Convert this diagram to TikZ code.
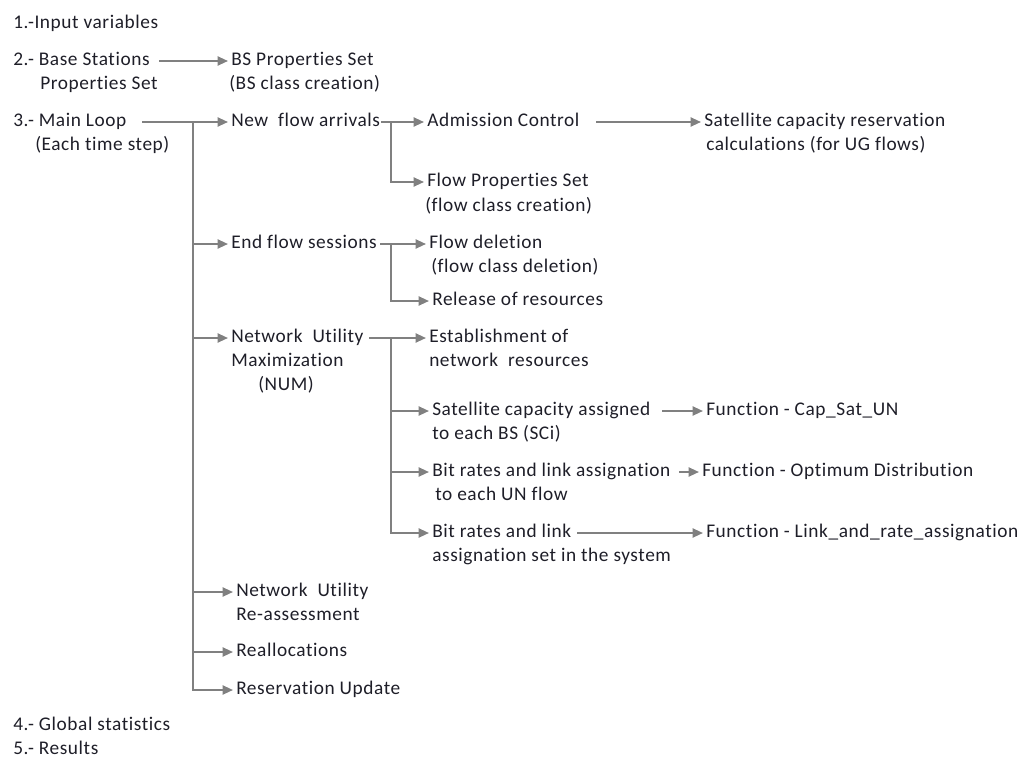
\documentclass[tikz,border=0pt]{standalone}
\usepackage{fontspec}
\setmainfont{Carlito}[Ligatures=NoCommon,LetterSpace=3]
\usetikzlibrary{arrows.meta}
\definecolor{linegray}{HTML}{808080}
\definecolor{ink}{HTML}{1E1E28}
\begin{document}
\begin{tikzpicture}[x=0.75pt,y=-0.75pt,
  lbl/.style={anchor=west,inner xsep=2.25pt,inner ysep=0pt,text height=9.6pt,text depth=3.6pt,
              font=\fontsize{14.5}{17}\selectfont,text=ink},
  conn/.style={draw=linegray,line width=1.5pt},
  arr/.style={conn,-{Triangle[length=7.8pt,width=6.8pt]}}]
\useasboundingbox (0,0) rectangle (1021,760);

% left column
\node[lbl] (l1)  at (10,24)  {1.-Input variables};
\node[lbl] (bs)  at (10,61)  {2.- Base Stations};
\node[lbl] (bs2) at (37,85)  {Properties Set};
\node[lbl] (ml)  at (10,122) {3.- Main Loop};
\node[lbl] (ml2) at (32,146) {(Each time step)};
\node[lbl] (g4)  at (10,726) {4.- Global statistics};
\node[lbl] (r5)  at (10,750) {5.- Results};

% second column
\node[lbl] (bsp)  at (228,61)  {BS Properties Set};
\node[lbl] (bsp2) at (226,85)  {(BS class creation)};
\node[lbl] (nfa)  at (228,122) {New\ \ flow arrivals};
\node[lbl] (efs)  at (228,244) {End flow sessions};
\node[lbl] (num)  at (228,338) {Network\ \ Utility};
\node[lbl] (num2) at (228,362) {Maximization};
\node[lbl] (num3) at (255,386) {(NUM)};
\node[lbl] (nur)  at (233,592) {Network\ \ Utility};
\node[lbl] (nur2) at (233,616) {Re-assessment};
\node[lbl] (rea)  at (233,652) {Reallocations};
\node[lbl] (rsu)  at (233,690) {Reservation Update};

% third column
\node[lbl] (adm)  at (424,122) {Admission Control};
\node[lbl] (fps)  at (424,182) {Flow Properties Set};
\node[lbl] (fps2) at (422,207) {(flow class creation)};
\node[lbl] (fd)   at (426,244) {Flow deletion};
\node[lbl] (fd2)  at (428,268) {(flow class deletion)};
\node[lbl] (rel)  at (429,301) {Release of resources};
\node[lbl] (est)  at (426,338) {Establishment of};
\node[lbl] (est2) at (426,362) {network\ \ resources};
\node[lbl] (sca)  at (429,411) {Satellite capacity assigned};
\node[lbl] (sca2) at (429,435) {to each BS (SCi)};
\node[lbl] (brl)  at (429,472) {Bit rates and link assignation};
\node[lbl] (brl2) at (432,496) {to each UN flow};
\node[lbl] (brs)  at (429,533) {Bit rates and link};
\node[lbl] (brs2) at (429,557) {assignation set in the system};

% fourth column
\node[lbl] (sat)   at (701,122) {Satellite capacity reservation};
\node[lbl] (sat2)  at (703,146) {calculations (for UG flows)};
\node[lbl] (fcap)  at (703,411) {Function - Cap\_Sat\_UN};
\node[lbl] (fopt)  at (699,472) {Function - Optimum Distribution};
\node[lbl] (flink) at (703,533) {Function - Link\_and\_rate\_assignation};

% branch points of the trunks
\coordinate (mt) at (193,122);
\coordinate (nt) at (391,122);
\coordinate (et) at (391,244);
\coordinate (ut) at (391,338);

% start points of the outgoing lines
\coordinate (bs-out)  at (159,61);
\coordinate (ml-out)  at (142,122);
\coordinate (nfa-out) at (381,122);
\coordinate (adm-out) at (596,122);
\coordinate (efs-out) at (380,244);
\coordinate (num-out) at (369,338);
\coordinate (sca-out) at (662,411);
\coordinate (brl-out) at (679,472);
\coordinate (brs-out) at (577,533);

% connectors
\draw[arr] (bs-out) -- (bsp.west);
\draw[arr] (ml-out) -- (nfa.west);
\draw[arr] (mt) |- (efs.west);
\draw[arr] (mt) |- (num.west);
\draw[arr] (mt) |- (nur.west);
\draw[arr] (mt) |- (rea.west);
\draw[arr] (mt) |- (rsu.west);

\draw[arr] (nfa-out) -- (adm.west);
\draw[arr] (nt) |- (fps.west);
\draw[arr] (adm-out) -- (sat.west);

\draw[arr] (efs-out) -- (fd.west);
\draw[arr] (et) |- (rel.west);

\draw[arr] (num-out) -- (est.west);
\draw[arr] (ut) |- (sca.west);
\draw[arr] (ut) |- (brl.west);
\draw[arr] (ut) |- (brs.west);
\draw[arr] (sca-out) -- (fcap.west);
\draw[arr] (brl-out) -- (fopt.west);
\draw[arr] (brs-out) -- (flink.west);
\end{tikzpicture}
\end{document}
